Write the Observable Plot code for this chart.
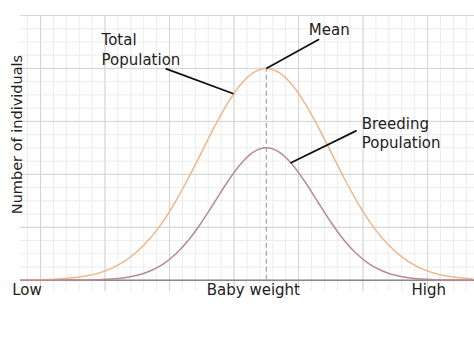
<!DOCTYPE html>
<html>
<head>
<meta charset="utf-8">
<script src="https://cdn.jsdelivr.net/npm/d3@7"></script>
<script src="https://cdn.jsdelivr.net/npm/@observablehq/plot@0.6"></script>
<style>
  html, body { margin: 0; padding: 0; background: #fff; }
  #chart svg { display: block; }
</style>
</head>
<body>
<div id="chart"></div>
<script>
// Baby weight, in grid units (mean at 17.5)
const weight = [-1.5,-0.5,0.5,1.5,2.5,3.5,4.5,5.5,6.5,7.5,8.5,9.5,10.5,11.5,12.5,13.5,14.5,15.5,16.5,17.5,
                18.5,19.5,20.5,21.5,22.5,23.5,24.5,25.5,26.5,27.5,28.5,29.5,30.5,31.5,32.5,33.5];
// Number of individuals (grid units)
const totalPopulation = [0.01,0.02,0.05,0.10,0.18,0.32,0.54,0.90,1.42,2.17,3.17,4.45,6.00,7.79,9.70,11.62,13.36,14.77,15.68,16.00,
                         15.68,14.77,13.36,11.62,9.70,7.79,6.00,4.45,3.17,2.17,1.42,0.90,0.54,0.32,0.18,0.10];
const breedingPopulation = [0,0,0,0.01,0.01,0.02,0.04,0.09,0.19,0.37,0.70,1.22,2.00,3.06,4.40,5.91,7.44,8.77,9.68,10.00,
                            9.68,8.77,7.44,5.91,4.40,3.06,2.00,1.22,0.70,0.37,0.19,0.09,0.04,0.02,0.01,0.01];
const meanWeight = 17.5;
const meanPeak = 16;

// Axis labels
const xLabels = ["Low", "Baby weight", "High"];
const xLabelAt = [-1.05, 16.5, 30.1];
const yTitle = "Number of individuals";

// Annotations (text lines and leader lines, in data units)
const noteText = ["Total", "Population", "Mean", "Breeding", "Population"];
const noteX = [4.73, 4.73, 20.8, 24.9, 24.9];
const noteY = [18.1, 16.65, 18.92, 11.8, 10.36];
const leaderX1 = [9.7, 21.6, 24.5];
const leaderY1 = [15.98, 18.2, 11.3];
const leaderX2 = [14.96, 17.5, 19.38];
const leaderY2 = [14.09, 16.0, 8.86];

const total = weight.map((w, i) => ({w, n: totalPopulation[i]}));
const breeding = weight.map((w, i) => ({w, n: breedingPopulation[i]}));
const notes = noteText.map((t, i) => ({t, x: noteX[i], y: noteY[i]}));
const leaders = leaderX1.map((x1, i) => ({x1, y1: leaderY1[i], x2: leaderX2[i], y2: leaderY2[i]}));
const labels = xLabels.map((t, i) => ({t, x: xLabelAt[i]}));

const xMinor = d3.range(-1, 34);
const xMajor = d3.range(0, 34, 5);
const yMinor = d3.range(0, 21);
const yMajor = d3.range(0, 21, 4);

const font = "DejaVu Sans, sans-serif";

const chart = Plot.plot({
  width: 474,
  height: 355,
  marginLeft: 20,
  marginRight: 0,
  marginTop: 15,
  marginBottom: 64,
  style: {fontFamily: font, background: "#fff"},
  x: {domain: [-1.55, 33.64], axis: null},
  y: {domain: [-0.85, 20], axis: null},
  marks: [
    Plot.ruleX(xMinor, {stroke: "#ececec", strokeWidth: 1}),
    Plot.ruleY(yMinor, {stroke: "#ececec", strokeWidth: 1}),
    Plot.ruleX(xMajor, {y1: -0.85, y2: 20, stroke: "#d4d4d4", strokeWidth: 1}),
    Plot.ruleY(yMajor, {stroke: "#d4d4d4", strokeWidth: 1}),
    Plot.ruleY([0], {stroke: "#8a8a8a", strokeWidth: 1.6}),
    Plot.ruleX([meanWeight], {y1: 0, y2: meanPeak, stroke: "#6f95ba", strokeWidth: 1, strokeDasharray: "5,3"}),
    Plot.line(total, {x: "w", y: "n", stroke: "#efb789", strokeWidth: 1.5, curve: "catmull-rom"}),
    Plot.line(breeding, {x: "w", y: "n", stroke: "#b98893", strokeWidth: 1.5, curve: "catmull-rom"}),
    Plot.link(leaders, {x1: "x1", y1: "y1", x2: "x2", y2: "y2", stroke: "#111", strokeWidth: 1.8}),
    Plot.text(notes, {x: "x", y: "y", text: "t", textAnchor: "start", fontSize: 15, fill: "#222", fontFamily: font}),
    Plot.text(labels, {x: "x", y: 0, dy: 10, text: "t", fontSize: 15, fill: "#222", fontFamily: font}),
    Plot.text([yTitle], {frameAnchor: "left", textAnchor: "middle", dx: -3, dy: -19, rotate: -90, fontSize: 14.5, fill: "#222", fontFamily: font})
  ]
});
document.getElementById("chart").appendChild(chart);
</script>
</body>
</html>
